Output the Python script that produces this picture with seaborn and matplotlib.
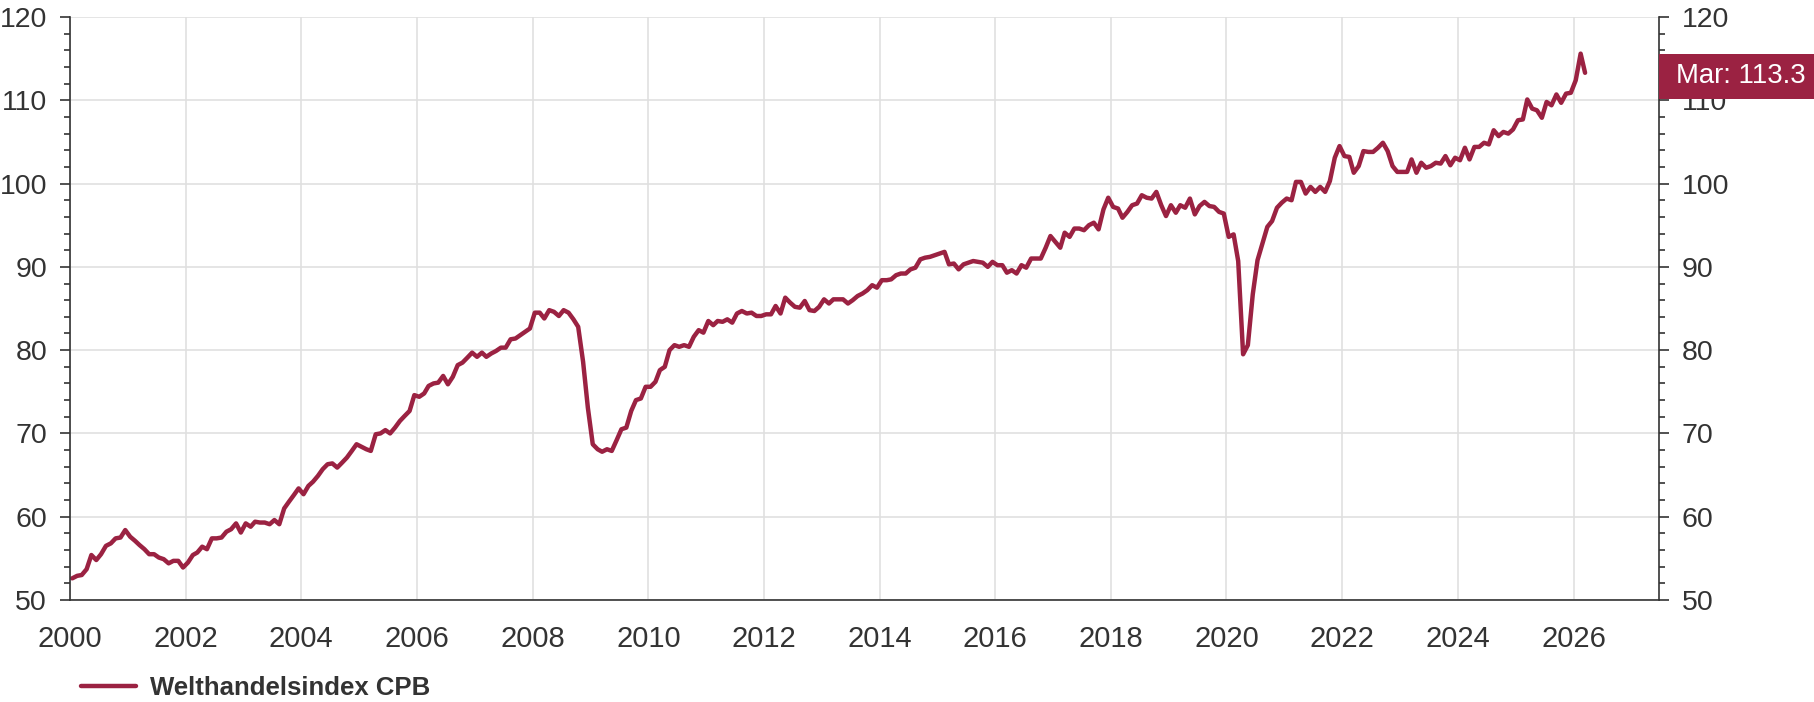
import pandas as pd
import seaborn as sns
import matplotlib.pyplot as plt
import matplotlib.dates as mdates
import matplotlib.transforms as mtransforms
from matplotlib.patches import Rectangle

# Monthly index values
series_name = "Welthandelsindex CPB"
start_month = "2000-01-01"
last_month_label = "Mar"

vals_2000s = [
    52.6, 52.9, 53.0, 53.7, 55.4, 54.8, 55.5, 56.5, 56.8, 57.4, 57.5, 58.4,
    57.6, 57.1, 56.6, 56.1, 55.5, 55.5, 55.1, 54.9, 54.4, 54.7, 54.7, 53.9,
    54.5, 55.4, 55.7, 56.4, 56.1, 57.4, 57.4, 57.5, 58.2, 58.5, 59.2, 58.1,
    59.2, 58.8, 59.4, 59.3, 59.3, 59.1, 59.6, 59.1, 61.0, 61.8, 62.6, 63.4,
    62.7, 63.7, 64.2, 64.9, 65.7, 66.3, 66.4, 65.9, 66.5, 67.1, 67.9, 68.7,
    68.4, 68.1, 67.9, 69.9, 70.0, 70.4, 70.0, 70.7, 71.5, 72.1, 72.7, 74.6,
    74.4, 74.8, 75.7, 76.0, 76.1, 76.9, 75.9, 76.8, 78.2, 78.5, 79.1, 79.7,
    79.2, 79.7, 79.2, 79.6, 79.9, 80.3, 80.3, 81.3, 81.4, 81.8, 82.2, 82.6,
    84.5, 84.5, 83.8, 84.8, 84.6, 84.1, 84.8, 84.5, 83.7, 82.8, 78.6, 73.1,
    68.7, 68.1, 67.8, 68.1, 67.9, 69.2, 70.5, 70.7, 72.7, 74.0, 74.2, 75.6,
]
vals_2010s = [
    75.6, 76.2, 77.6, 78.0, 80.0, 80.6, 80.4, 80.6, 80.4, 81.6, 82.4, 82.1,
    83.5, 83.0, 83.5, 83.4, 83.7, 83.3, 84.4, 84.7, 84.4, 84.5, 84.1, 84.1,
    84.3, 84.3, 85.3, 84.4, 86.3, 85.7, 85.2, 85.1, 85.9, 84.8, 84.7, 85.2,
    86.1, 85.6, 86.1, 86.1, 86.1, 85.6, 86.0, 86.5, 86.8, 87.2, 87.8, 87.5,
    88.4, 88.4, 88.5, 89.0, 89.2, 89.2, 89.7, 89.9, 90.9, 91.1, 91.2, 91.4,
    91.6, 91.8, 90.3, 90.4, 89.7, 90.3, 90.5, 90.7, 90.6, 90.5, 90.0, 90.6,
    90.2, 90.2, 89.3, 89.6, 89.2, 90.2, 89.9, 91.0, 91.0, 91.0, 92.3, 93.7,
    93.0, 92.3, 94.1, 93.6, 94.6, 94.6, 94.4, 95.0, 95.3, 94.5, 96.9, 98.3,
    97.2, 97.0, 95.9, 96.6, 97.4, 97.6, 98.6, 98.3, 98.2, 99.0, 97.4, 96.1,
    97.4, 96.5, 97.4, 97.1, 98.2, 96.3, 97.3, 97.8, 97.3, 97.2, 96.6, 96.4,
]
vals_2020s = [
    93.6, 93.9, 90.7, 79.5, 80.6, 86.7, 90.8, 92.8, 94.8, 95.5, 97.1, 97.7,
    98.2, 98.0, 100.2, 100.2, 98.8, 99.6, 99.0, 99.6, 99.0, 100.3, 103.1, 104.5,
    103.3, 103.2, 101.3, 102.1, 103.9, 103.8, 103.8, 104.3, 104.9, 103.9, 102.1, 101.4,
    101.4, 101.4, 102.9, 101.3, 102.5, 101.9, 102.1, 102.5, 102.4, 103.3, 102.2, 103.1,
    102.8, 104.3, 102.9, 104.4, 104.4, 104.9, 104.7, 106.4, 105.7, 106.2, 106.0, 106.5,
    107.6, 107.7, 110.1, 109.0, 108.8, 107.9, 109.8, 109.4, 110.7, 109.7, 110.8, 110.9,
    112.4, 115.6, 113.3,
]

y_ticks = [50, 60, 70, 80, 90, 100, 110, 120]

LINE = "#9b2242"
TEXT = "#333333"
GRID = "#e0e0e0"

values = vals_2000s + vals_2010s + vals_2020s
dates = pd.date_range(start_month, periods=len(values), freq="MS") + pd.Timedelta(days=14)
df = pd.DataFrame({"date": dates, "value": values})

sns.set_style("white")
plt.rcParams["font.family"] = ["Liberation Sans", "DejaVu Sans"]

W, H = 1814, 702
fig = plt.figure(figsize=(W / 100, H / 100), dpi=100)
ax = fig.add_axes([70 / W, 1 - 600 / H, (1659 - 70) / W, (600 - 17) / H])

sns.lineplot(data=df, x="date", y="value", color=LINE, linewidth=3.2,
             ax=ax, label=series_name, legend=False)

ax.set_xlim(pd.Timestamp("2000-01-01"), pd.Timestamp("2027-06-25"))
ax.set_ylim(y_ticks[0], y_ticks[-1])
ax.set_xlabel("")
ax.set_ylabel("")

# axes styling
ax.xaxis.set_major_locator(mdates.YearLocator(2))
ax.xaxis.set_major_formatter(mdates.DateFormatter("%Y"))
ax.xaxis.set_minor_locator(mdates.MonthLocator(bymonth=[1, 4, 7, 10]))
ax.set_yticks(y_ticks)
ax.set_yticks(range(y_ticks[0], y_ticks[-1] + 1, 2), minor=True)

ax.grid(True, which="major", color=GRID, linewidth=1.2)
ax.set_axisbelow(True)
for side in ["left", "right", "bottom"]:
    ax.spines[side].set_visible(True)
    ax.spines[side].set_color(TEXT)
    ax.spines[side].set_linewidth(1.2)
ax.spines["top"].set_visible(False)

ax.tick_params(axis="x", which="major", direction="out", length=10, width=1.2,
               color=TEXT, labelsize=21, labelcolor=TEXT, pad=8)
ax.tick_params(axis="x", which="minor", direction="out", length=5, width=1.2, color=TEXT)
ax.tick_params(axis="y", which="major", direction="out", length=7, width=1.2,
               color=TEXT, labelsize=20.5, labelcolor=TEXT, pad=9.5,
               left=True, right=True, labelleft=True, labelright=True)
ax.tick_params(axis="y", which="minor", direction="out", length=4, width=1.2,
               color=TEXT, left=True, right=True)

# last value tag on the right axis
last_val = values[-1]
trans = mtransforms.blended_transform_factory(ax.transAxes, ax.transData)
tag = Rectangle((1.0, last_val - 3.2), 0.2, 5.5, transform=trans,
                facecolor=LINE, edgecolor="none", clip_on=False, zorder=5)
ax.add_patch(tag)
ax.text(1.0105, last_val - 0.4, f"{last_month_label}: {last_val}", transform=trans,
        ha="left", va="center", color="white", fontsize=19.8,
        zorder=6, clip_on=False)

# legend below the plot
handles, labels = ax.get_legend_handles_labels()
fig.legend(handles, labels, loc="center left", bbox_to_anchor=(81 / W, 1 - 688 / H),
           frameon=False, prop={"size": 18.5, "weight": "bold"}, labelcolor=TEXT,
           handlelength=2.14, handletextpad=0.55, borderpad=0, borderaxespad=0)

fig.savefig("out.png", dpi=100)
